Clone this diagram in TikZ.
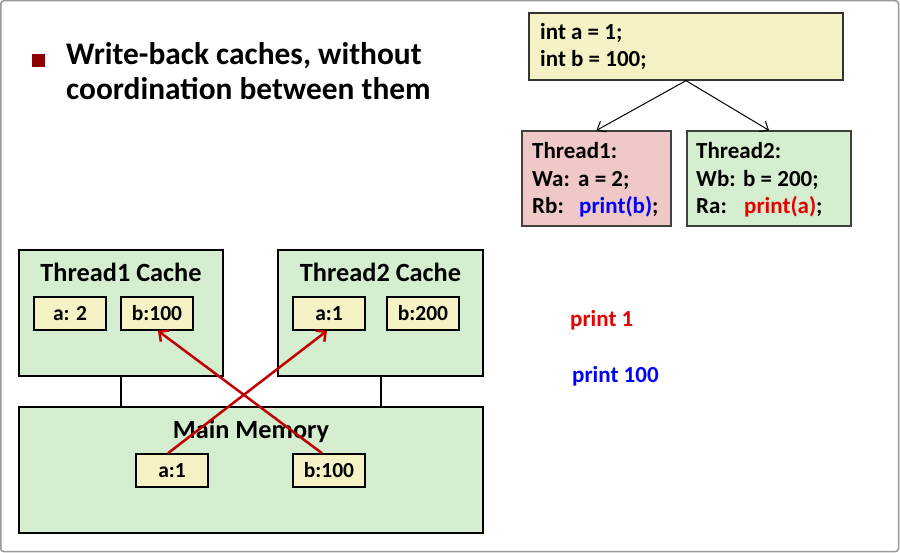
\documentclass[tikz,border=0pt]{standalone}
\usepackage{fontspec}
\setmainfont{Carlito}
\usetikzlibrary{arrows.meta}
\definecolor{yel}{RGB}{245,243,197}
\definecolor{grn}{RGB}{214,238,208}
\definecolor{pnk}{RGB}{240,200,200}
\definecolor{arrred}{RGB}{192,0,0}
\definecolor{txtred}{RGB}{230,0,0}
\definecolor{txtblue}{RGB}{0,0,255}
\definecolor{bullet}{RGB}{140,0,0}
\tikzset{
  box/.style={draw=black, line width=2pt, inner sep=0pt},
  thin box/.style={draw=black!75, line width=1.3pt, inner sep=0pt},
  cell/.style={draw=black, line width=1.6pt, fill=yel, inner sep=0pt, minimum width=72pt, minimum height=33pt, font=\bfseries\fontsize{21.5}{24}\selectfont},
  txt/.style={inner sep=0pt, font=\bfseries\fontsize{23}{27}\selectfont},
  title/.style={inner sep=0pt, font=\bfseries\fontsize{26.3}{30}\selectfont},
  head/.style={inner sep=0pt, anchor=base west, font=\bfseries\fontsize{31.4}{35}\selectfont},
  redarr/.style={draw=arrred, line width=2.5pt, -{Straight Barb[length=7pt,width=14pt,line width=2.5pt]}},
  blkarr/.style={draw=black, line width=1pt, -{Straight Barb[length=7pt,width=12pt]}},
}
\begin{document}
\begin{tikzpicture}[x=1pt,y=-1pt]
\useasboundingbox (0,0) rectangle (900,553);
\draw[draw=black!40, line width=1.5pt, rounded corners=3pt] (0.75,0.75) rectangle (898.5,551.5);

% heading
\node[fill=bullet, minimum size=13pt, inner sep=0pt] (bul) at (38.5,60.5) {};
\node[head] (h1) at (66,65) {Write-back caches, without};
\node[head] (h2) at (66,100) {coordination between them};

% code box
\node[box, fill=yel, line width=1.3pt, draw=black!80, minimum width=314pt, minimum height=67pt] (code) at (686,46.5) {};
\node[txt, anchor=base west] (c1) at (540,40) {int a = 1;};
\node[txt, anchor=base west] (c2) at (540,67) {int b = 100;};

% thread boxes
\node[thin box, fill=pnk, minimum width=149pt, minimum height=95pt] (t1) at (596.5,178.5) {};
\node[thin box, fill=grn, minimum width=164pt, minimum height=95pt] (t2) at (769,178.5) {};
\node[txt, anchor=base west] (t1a) at (532,159) {Thread1:};
\node[txt, anchor=base west] (t1b) at (532,187) {\makebox[46pt][l]{Wa:}a = 2;};
\node[txt, anchor=base west] (t1c) at (532,214) {\makebox[47pt][l]{Rb:}\textcolor{txtblue}{print(b)};};
\node[txt, anchor=base west] (t2a) at (696,159) {Thread2:};
\node[txt, anchor=base west] (t2b) at (696,187) {\makebox[47pt][l]{Wb:}b = 200;};
\node[txt, anchor=base west] (t2c) at (696,214) {\makebox[48pt][l]{Ra:}\textcolor{txtred}{print(a)};};

\draw[blkarr] (code.south) -- (t1.north);
\draw[blkarr] (code.south) -- (t2.north);

% caches
\node[box, fill=grn, minimum width=204pt, minimum height=126pt] (c1box) at (121,313) {};
\node[box, fill=grn, minimum width=205pt, minimum height=126pt] (c2box) at (380.5,313) {};
\node[box, fill=grn, minimum width=464pt, minimum height=126pt] (mem) at (251,470) {};

\draw[line width=2pt] (c1box.south) -- (c1box.south |- mem.north);
\draw[line width=2pt] (c2box.south) -- (c2box.south |- mem.north);

\node[title, anchor=base] (c1t) at (121,282) {Thread1 Cache};
\node[title, anchor=base] (c2t) at (380.5,282) {Thread2 Cache};
\node[title, anchor=base] (mt) at (251,438) {Main Memory};

\node[cell] (ta1) at (70,313.5) {a: 2};
\node[cell] (tb1) at (157,313.5) {b:100};
\node[cell] (ta2) at (329,313.5) {a:1};
\node[cell] (tb2) at (423,313.5) {b:200};
\node[cell] (ma) at (172,470.5) {a:1};
\node[cell] (mb) at (329,470.5) {b:100};

\draw[redarr] ([xshift=-4pt]ma.north) -- ([xshift=-2pt]ta2.south);
\draw[redarr] ([xshift=-7pt]mb.north) -- ([xshift=1pt]tb1.south);

% outputs
\node[txt, anchor=base west, text=txtred] (p1) at (570,327) {print 1};
\node[txt, anchor=base west, text=txtblue] (p2) at (572,382) {print 100};
\end{tikzpicture}
\end{document}
